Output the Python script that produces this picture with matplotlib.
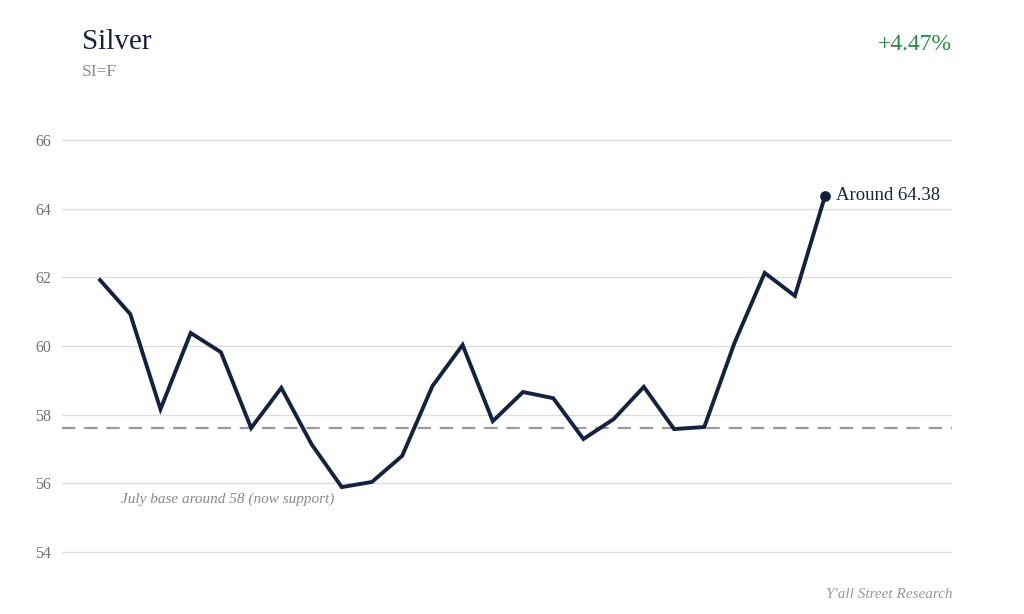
import matplotlib.pyplot as plt

plt.rcParams['font.family'] = ['Liberation Serif', 'DejaVu Serif']

prices = [61.92, 60.93, 58.16, 60.38, 59.82, 57.61, 58.78, 57.14, 55.89, 56.04,
          56.80, 58.83, 60.03, 57.81, 58.66, 58.48, 57.29, 57.87, 58.81, 57.58,
          57.64, 60.09, 62.13, 61.46, 64.38]
support_level = 57.6
y_ticks = [54, 56, 58, 60, 62, 64, 66]

title = "Silver"
ticker = "SI=F"
change_text = "+4.47%"
support_note = "July base around 58 (now support)"
last_label = "Around 64.38"
source = "Y'all Street Research"

navy = '#13233f'
grey = '#8a8a8a'
green = '#2a8a45'

fig = plt.figure(figsize=(10.24, 6.14), dpi=100)
# gridlines 54..66 sit at pixel rows 552..140, with a little room either side
ax = fig.add_axes([62/1024, 1 - 555.4/614, (952 - 62)/1024, (555.4 - 136.6)/614])

x = list(range(len(prices)))
ax.plot(x, prices, color=navy, linewidth=2.8, solid_joinstyle='miter', zorder=3)
ax.scatter([x[-1]], [prices[-1]], color=navy, s=45, zorder=4)
ax.annotate(last_label, (x[-1], prices[-1]), xytext=(8, 0), textcoords='offset points',
            va='center', ha='left', fontsize=13.5, color=navy)

ax.axhline(support_level, color='#9a9a9a', linestyle=(0, (6, 4)), linewidth=1.6, zorder=2)
ax.text(0.7, 55.55, support_note, fontsize=11, style='italic', color=grey, va='center')

ax.set_xlim(-1.26, 28.2)
ax.set_ylim(53.9, 66.1)
ax.set_yticks(y_ticks)
ax.set_xticks([])
ax.grid(axis='y', color='#dcdcdc', linewidth=1)
ax.set_axisbelow(True)
for s in ax.spines.values():
    s.set_visible(False)
ax.tick_params(axis='y', length=0, pad=8, labelsize=11.5, labelcolor='#707070')

fig.text(82/1024, 1 - 42/614, title, fontsize=21, color=navy, va='center', ha='left')
fig.text(82/1024, 1 - 72/614, ticker, fontsize=12.5, color=grey, va='center', ha='left')
fig.text(952/1024, 1 - 45/614, change_text, fontsize=17, color=green, va='center', ha='right')
fig.text(952/1024, 1 - 594/614, source, fontsize=11, style='italic', color='#9a9a9a',
         va='center', ha='right')

fig.savefig('out.png', dpi=100, facecolor='white')
